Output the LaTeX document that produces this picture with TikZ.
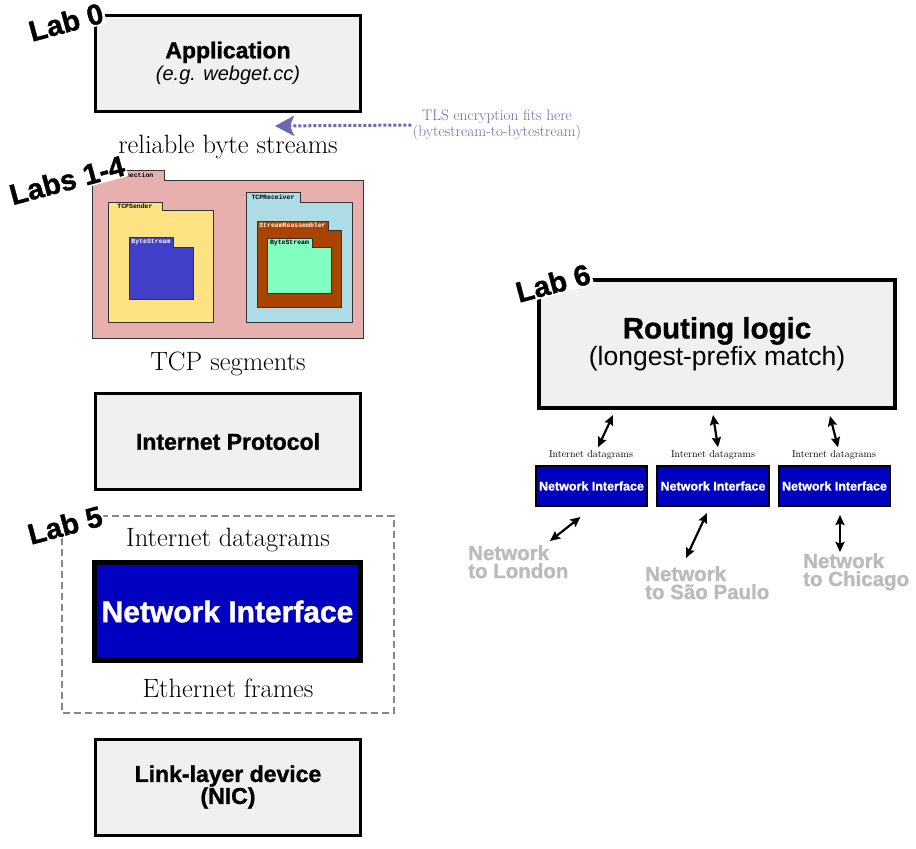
\documentclass[tikz,border=0pt]{standalone}
\usepackage{fontspec}
\setsansfont{Liberation Sans}[BoldFeatures={FakeBold=1.2}]
\setmonofont{Liberation Mono}
\usepackage{tikz}
\usetikzlibrary{arrows.meta}

\definecolor{boxgray}{HTML}{F0F0F0}
\definecolor{niblue}{HTML}{0000C0}
\definecolor{tcppink}{HTML}{E8AFAF}
\definecolor{sendyellow}{HTML}{FFE382}
\definecolor{streamblue}{HTML}{4040C8}
\definecolor{recvblue}{HTML}{AEDCE6}
\definecolor{reasmbrown}{HTML}{A94300}
\definecolor{mintgreen}{HTML}{80FFC0}
\definecolor{tlsblue}{HTML}{6A6AB0}
\definecolor{netgray}{HTML}{BBBBBB}

% folder: x1, body top, x2, bottom, tab right, tab top, fill, text colour, label
\newcommand{\folder}[9]{%
  \draw[fill=#7, draw=black!80, line width=0.9pt] (#1,#4) -- (#1,#6) -- (#5,#6) -- (#5,#2) -- (#3,#2) -- (#3,#4) -- cycle;
  \node[inner sep=0pt, text=#8, font=\ttfamily\bfseries\fontsize{6.5}{7}\selectfont] at ({(#1+#5)/2},{(#6+#2)/2}) {#9};
}

\begin{document}
\begin{tikzpicture}[x=1pt, y=-1pt,
    layerbox/.style={draw, line width=3pt, fill=boxgray, minimum width=265pt, minimum height=96pt, align=center, font=\sffamily\bfseries\fontsize{23}{22}\selectfont},
    flowtext/.style={inner sep=0pt, font=\fontsize{26.5}{28}\selectfont},
    smallni/.style={draw, line width=2pt, fill=niblue, text=white, minimum width=111pt, minimum height=40pt, font=\sffamily\bfseries\fontsize{12.5}{13}\selectfont},
    smallflow/.style={inner sep=0pt, font=\fontsize{10}{11}\selectfont},
    netlabel/.style={anchor=north west, inner sep=0pt, align=left, text=netgray, font=\sffamily\bfseries\fontsize{20.5}{18}\selectfont},
    labtag/.style={fill=white, inner sep=1.5pt, rotate=15, font=\sffamily\bfseries\fontsize{29}{30}\selectfont},
    dblarrow/.style={line width=2.2pt, {Stealth[length=10pt,width=9pt,inset=1.5pt]}-{Stealth[length=10pt,width=9pt,inset=1.5pt]}}]
  \useasboundingbox (0,0) rectangle (916,849);

  % left stack
  \node[layerbox] (app) at (228,63) {Application\\{\mdseries\itshape\fontsize{20}{21}\selectfont (e.g. webget.cc)}};
  \node[flowtext] (rbs) at (228,147) {reliable byte streams};

  \folder{92}{180}{363}{338}{164}{170}{tcppink}{black}{TCPConnection}
  \folder{108}{210}{213}{322}{162}{202}{sendyellow}{black}{TCPSender}
  \folder{129}{247}{193}{299}{173}{237}{streamblue}{white}{ByteStream}
  \folder{246}{202}{352}{322}{300}{192}{recvblue}{black}{TCPReceiver}
  \folder{257}{230}{341}{307}{328}{221}{reasmbrown}{white}{StreamReassembler}
  \folder{267}{247}{331}{293}{312}{238}{mintgreen}{black}{ByteStream}

  \node[flowtext] (seg) at (228,364) {TCP segments};
  \node[layerbox] (ip) at (228,441.5) {Internet Protocol};

  \draw[draw=black!47, line width=2pt, dash pattern=on 7pt off 4pt] (62,516) rectangle (394,713);
  \node[flowtext] (dg) at (228,540) {Internet datagrams};
  \node[draw, line width=5pt, fill=niblue, text=white, minimum width=266pt, minimum height=98pt, font=\sffamily\bfseries\fontsize{30}{31}\selectfont] (ni) at (227.5,611.5) {Network Interface};
  \node[flowtext] (eth) at (228,688) {Ethernet frames};

  \node[layerbox] (nic) at (228,787) {Link-layer device\\(NIC)};

  % TLS note
  \node[align=center, text=tlsblue, font=\fontsize{15.3}{14}\selectfont] (tls) at (497,125) {TLS encryption fits here\\(bytestream-to-bytestream)};
  \coordinate (tlsend) at (275,126);
  \draw[tlsblue, line width=3pt, dash pattern=on 3pt off 2pt, -{Stealth[length=19pt,width=20pt,inset=4pt]}] ([xshift=2pt]tls.west) -- (tlsend);

  % router
  \node[draw, line width=4pt, fill=boxgray, minimum width=356pt, minimum height=128pt, align=center, font=\sffamily\fontsize{26.5}{27}\selectfont] (rt) at (717,344) {{\bfseries\fontsize{29.5}{28}\selectfont Routing logic}\\(longest-prefix match)};

  \node[smallflow] (d1) at (591,455) {Internet datagrams};
  \node[smallflow] (d2) at (713,455) {Internet datagrams};
  \node[smallflow] (d3) at (834,455) {Internet datagrams};
  \node[smallni] (ni1) at (591.5,486) {Network Interface};
  \node[smallni] (ni2) at (713,486) {Network Interface};
  \node[smallni] (ni3) at (834.5,486) {Network Interface};

  \draw[dblarrow] ([shift={(-104pt,-5pt)}]rt.south) -- ([shift={(7pt,3pt)}]d1.north);
  \draw[dblarrow] ([shift={(-4pt,-5pt)}]rt.south) -- ([shift={(5pt,3pt)}]d2.north);
  \draw[dblarrow] ([shift={(113pt,-6pt)}]rt.south) -- ([shift={(4pt,3pt)}]d3.north);

  \node[netlabel] (lon) at (468,545) {Network\\to London};
  \node[netlabel] (sao) at (645,566) {Network\\to São Paulo};
  \node[netlabel] (chi) at (803,553) {Network\\to Chicago};

  \coordinate (lonend) at (550,541);
  \coordinate (saoend) at (686,558);
  \coordinate (chiend) at (840,552);
  \draw[dblarrow] ([shift={(-11pt,-10pt)}]ni1.south) -- (lonend);
  \draw[dblarrow] ([shift={(-6pt,-6pt)}]ni2.south) -- (saoend);
  \draw[dblarrow] ([shift={(5.5pt,-8pt)}]ni3.south) -- (chiend);

  % lab tags
  \node[labtag] (lab0) at (66,22) {Lab 0};
  \node[labtag] (lab14) at (67,180) {Labs 1-4};
  \node[labtag] (lab5) at (65,525) {Lab 5};
  \node[labtag] (lab6) at (553,283) {Lab 6};
\end{tikzpicture}
\end{document}
